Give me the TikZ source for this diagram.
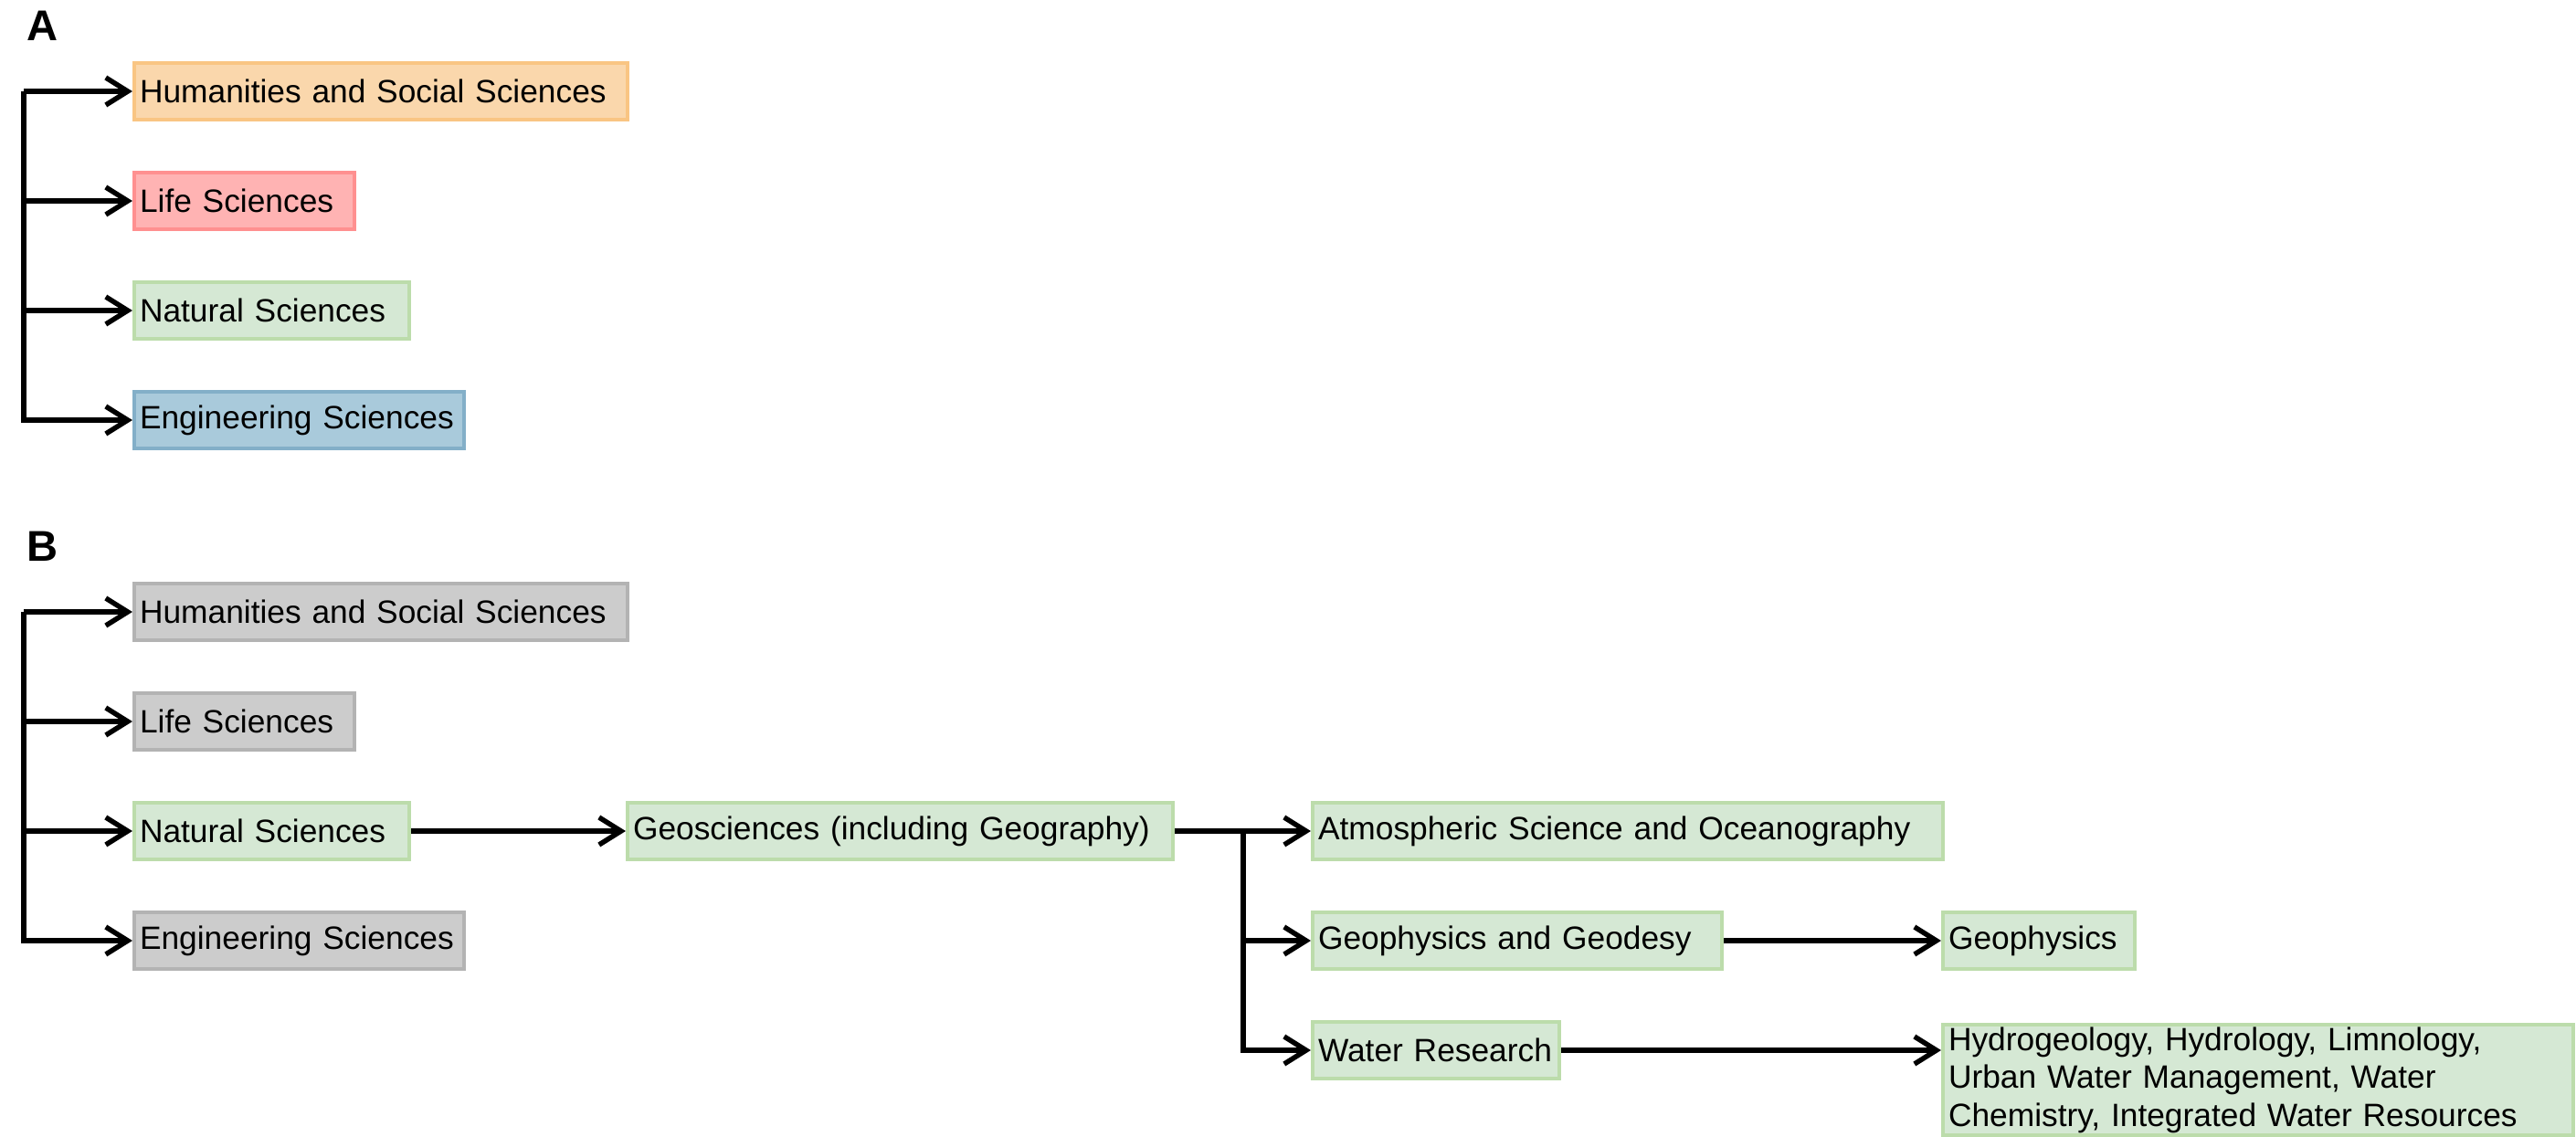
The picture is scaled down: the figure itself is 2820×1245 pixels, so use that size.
\documentclass[tikz,border=0pt]{standalone}
\usepackage{fontspec}
\setmainfont{Liberation Sans}
\usetikzlibrary{arrows.meta}

\definecolor{orangefill}{HTML}{FAD7AC}
\definecolor{orangeline}{HTML}{F9C583}
\definecolor{redfill}{HTML}{FFB3B3}
\definecolor{redline}{HTML}{FF9090}
\definecolor{greenfill}{HTML}{D5E8D4}
\definecolor{greenline}{HTML}{BCDCAB}
\definecolor{bluefill}{HTML}{A9CADB}
\definecolor{blueline}{HTML}{83AFC8}
\definecolor{greyfill}{HTML}{CCCCCC}
\definecolor{greyline}{HTML}{B3B3B3}

\tikzset{
    box/.style={rectangle, line width=0.04cm, minimum height=0.61cm, inner xsep=0.06cm, inner ysep=0pt,
        anchor=west, align=left, font=\fontsize{10.05}{11.8}\selectfont},
    orangebox/.style={box, draw=orangeline, fill=orangefill},
    redbox/.style={box, draw=redline, fill=redfill},
    greenbox/.style={box, draw=greenline, fill=greenfill},
    bluebox/.style={box, draw=blueline, fill=bluefill},
    greybox/.style={box, draw=greyline, fill=greyfill},
    panel/.style={font=\fontsize{13.4}{16}\selectfont\bfseries},
    arr/.style={line width=0.055cm, -{Straight Barb[length=0.24cm,width=0.3cm]}}
}

\begin{document}
\begin{tikzpicture}[x=0.01cm,y=-0.01cm]
                \useasboundingbox (0,0) rectangle (2820,1245);
                % A
                \begin{scope}[shift={(0,0)}]
                    \node[panel] (labA) at (47,28) {A};
                    \coordinate (trA) at (26,100);
                    \node[orangebox, text width=5.28cm] (humA) at (145,100) {Humanities and Social Sciences};
                    \node[redbox, text width=2.29cm] (lifeA) at (145,220) {Life Sciences};
                    \node[greenbox, text width=2.89cm] (natA) at (145,340) {Natural Sciences};
                    \node[bluebox, text width=3.49cm] (engA) at (145,460) {Engineering Sciences};
                    \draw[arr] (trA) |- (humA.west);
                    \draw[arr] (trA) |- (lifeA.west);
                    \draw[arr] (trA) |- (natA.west);
                    \draw[arr] (trA) |- (engA.west);
                \end{scope}
                % B
                \begin{scope}[shift={(0,570)}]
                    \node[panel] (labB) at (47,28) {B};
                    \coordinate (trB) at (26,100);
                    \node[greybox, text width=5.28cm] (humB) at (145,100) {Humanities and Social Sciences};
                    \node[greybox, text width=2.29cm] (lifeB) at (145,220) {Life Sciences};
                    \node[greenbox, text width=2.89cm] (natB) at (145,340) {Natural Sciences};
                    \node[greybox, text width=3.49cm] (engB) at (145,460) {Engineering Sciences};
                    \draw[arr] (trB) |- (humB.west);
                    \draw[arr] (trB) |- (lifeB.west);
                    \draw[arr] (trB) |- (natB.west);
                    \draw[arr] (trB) |- (engB.west);
                    % geosciences and below
                    \node[greenbox, text width=5.85cm] (geo) at (685,340) {Geosciences (including Geography)};
                    \coordinate (fork) at (1361,340);
                    \node[greenbox, text width=6.78cm] (atm) at (1435,340) {Atmospheric Science and Oceanography};
                    \node[greenbox, text width=4.36cm] (gpg) at (1435,460) {Geophysics and Geodesy};
                    \node[greenbox, text width=2.58cm] (wat) at (1435,580) {Water Research};
                    \node[greenbox, text width=1.98cm] (gph) at (2125,460) {Geophysics};
                    \node[greenbox, text width=6.78cm, minimum height=1.21cm, anchor=north west] (hyd) at (2125,550)
                        {Hydrogeology, Hydrology, Limnology,\\Urban Water Management, Water\\Chemistry, Integrated Water Resources};
                    \draw[arr] (natB.east) -- (geo.west);
                    \draw[arr] (geo.east) -- (fork) -- (atm.west);
                    \draw[arr] (geo.east) -- (fork) |- (gpg.west);
                    \draw[arr] (geo.east) -- (fork) |- (wat.west);
                    \draw[arr] (gpg.east) -- (gph.west);
                    \draw[arr] (wat.east) -- (wat.east -| hyd.west);
                \end{scope}
            \end{tikzpicture}
\end{document}
